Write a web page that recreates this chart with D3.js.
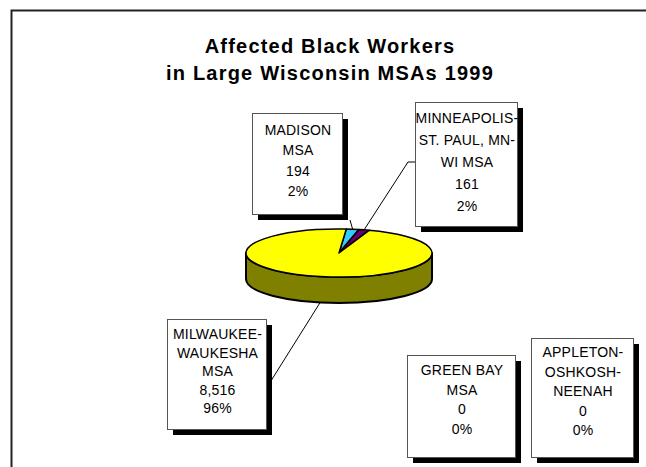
<!DOCTYPE html>
<html>
<head>
<meta charset="utf-8">
<script src="https://cdn.jsdelivr.net/npm/d3@7"></script>
<style>
  body { margin: 0; background: #fff; }
  svg text { font-family: "Liberation Sans", Arial, sans-serif; }
</style>
</head>
<body>
<svg id="svg1" width="646" height="467"></svg>
<script>
'use strict'
// data, in the order the slices are drawn (clockwise from the top)
const regions = ["MADISON MSA", "MINNEAPOLIS-ST. PAUL, MN-WI MSA", "MILWAUKEE-WAUKESHA MSA", "GREEN BAY MSA", "APPLETON-OSHKOSH-NEENAH"];
const workers = [194, 161, 8516, 0, 0];
const percents = ["2%", "2%", "96%", "0%", "0%"];
const labelLines = [
  ["MADISON", "MSA"],
  ["MINNEAPOLIS-", "ST. PAUL, MN-", "WI MSA"],
  ["MILWAUKEE-", "WAUKESHA", "MSA"],
  ["GREEN BAY", "MSA"],
  ["APPLETON-", "OSHKOSH-", "NEENAH"]
];
const sliceColors = ["#33ccff", "#660066", "#ffff00", "#ff99cc", "#ccffcc"];
const sideColors = ["#1a6680", "#330033", "#808000", "#804c66", "#668066"];

// label boxes (layout only): position, size, first baseline offset, line step
const boxes = [
  { x: 252, y: 113, w: 90, h: 101, first: 22, lead: 20.3 },
  { x: 415, y: 102, w: 102, h: 124, first: 21, lead: 22 },
  { x: 167, y: 319, w: 99, h: 110, first: 20, lead: 18.6 },
  { x: 407, y: 355, w: 108, h: 102, first: 20, lead: 19.7 },
  { x: 531, y: 338, w: 102, h: 119, first: 19, lead: 19.5 }
];

let svg = d3.select("#svg1");

// chart area frame
svg.append("rect")
  .attr("x", 11.5).attr("y", 10.5)
  .attr("width", 700).attr("height", 500)
  .attr("fill", "none").attr("stroke", "#222").attr("stroke-width", 2);

// title
let title = svg.append("text")
  .attr("text-anchor", "middle")
  .attr("font-size", 20).attr("font-weight", "bold")
  .style("letter-spacing", "1.2px");
title.append("tspan").attr("x", 330).attr("y", 53).text("Affected Black Workers");
title.append("tspan").attr("x", 330).attr("y", 80).text("in Large Wisconsin MSAs 1999");

// 3d pie geometry
let cx = 339, cy = 253, rx = 93, ry = 24, depth = 26;
const pt = (a, dy = 0) => [cx + rx * Math.sin(a), cy - ry * Math.cos(a) + dy];

let start = 4.5 * Math.PI / 180;
let arcs = d3.pie().sort(null).startAngle(start).endAngle(start + 2 * Math.PI)(workers);

let g = svg.append("g");

// side walls (front half only)
arcs.forEach((d, i) => {
  let b0 = Math.max(d.startAngle, Math.PI / 2);
  let b1 = Math.min(d.endAngle, 3 * Math.PI / 2);
  if (b1 <= b0) return;
  let p0 = pt(b0), p1 = pt(b1), q1 = pt(b1, depth), q0 = pt(b0, depth);
  let large = (b1 - b0) > Math.PI ? 1 : 0;
  g.append("path")
    .attr("d", `M${p0}A${rx},${ry} 0 ${large} 1 ${p1}L${q1}A${rx},${ry} 0 ${large} 0 ${q0}Z`)
    .attr("fill", sideColors[i])
    .attr("stroke", "#000").attr("stroke-width", 2).attr("stroke-linejoin", "round");
});

// top faces
arcs.forEach((d, i) => {
  if (d.endAngle - d.startAngle <= 0) return;
  let p0 = pt(d.startAngle), p1 = pt(d.endAngle);
  let large = (d.endAngle - d.startAngle) > Math.PI ? 1 : 0;
  g.append("path")
    .attr("d", `M${cx},${cy}L${p0}A${rx},${ry} 0 ${large} 1 ${p1}Z`)
    .attr("fill", sliceColors[i])
    .attr("stroke", "#000").attr("stroke-width", 1.5).attr("stroke-linejoin", "round");
});

// leader lines from slice edge to label box
const leaderEnds = [[350, 220], [408, 162], [264, 392]];
arcs.slice(0, 3).forEach((d, i) => {
  let mid = (d.startAngle + d.endAngle) / 2;
  let from = pt(mid, Math.cos(mid) < 0 ? depth : 0);
  let pts = [from, leaderEnds[i]];
  if (i === 1) pts.push([boxes[1].x, 162]);
  svg.append("path")
    .attr("d", d3.line()(pts))
    .attr("fill", "none").attr("stroke", "#000").attr("stroke-width", 1);
});

// label boxes
boxes.forEach((b, i) => {
  let lg = svg.append("g");
  lg.append("rect")
    .attr("x", b.x + 6).attr("y", b.y + 6)
    .attr("width", b.w).attr("height", b.h)
    .attr("fill", "#000");
  lg.append("rect")
    .attr("x", b.x + 0.5).attr("y", b.y + 0.5)
    .attr("width", b.w).attr("height", b.h)
    .attr("fill", "#fff").attr("stroke", "#555").attr("stroke-width", 1);
  let lines = labelLines[i].concat([d3.format(",")(workers[i]), percents[i]]);
  let t = lg.append("text")
    .attr("text-anchor", "middle").attr("font-size", 14)
    .style("letter-spacing", "0.2px");
  lines.forEach((l, j) => {
    t.append("tspan")
      .attr("x", b.x + b.w / 2 + 1)
      .attr("y", b.y + b.first + j * b.lead)
      .text(l);
  });
});
</script>
</body>
</html>
